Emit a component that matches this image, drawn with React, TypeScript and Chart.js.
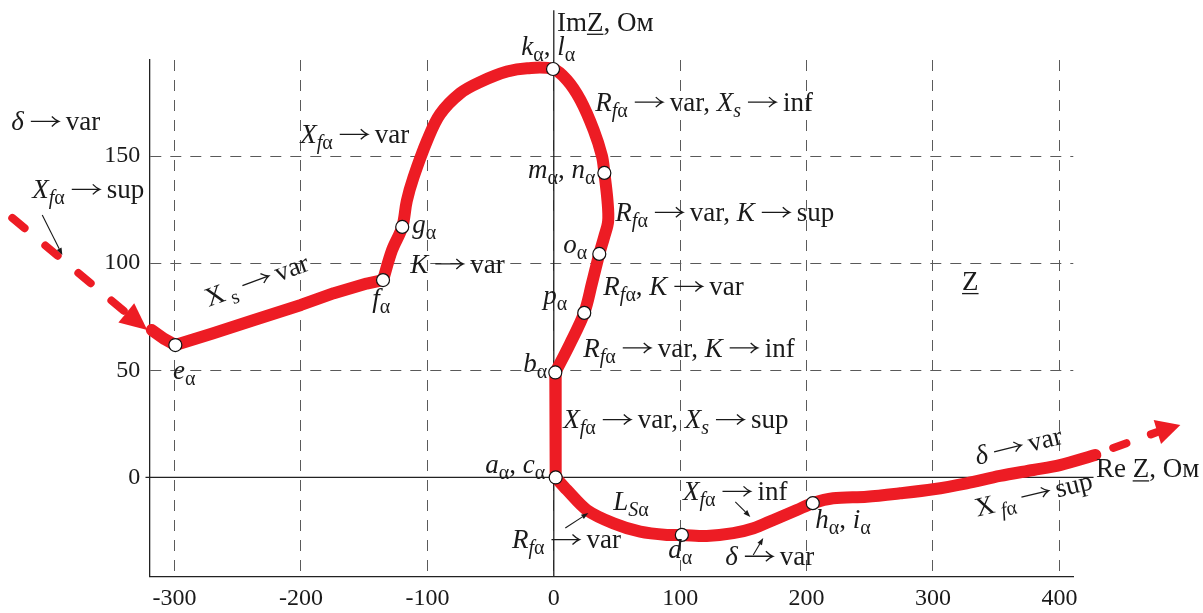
import React, { useEffect, useRef } from "react";
import { Chart, registerables } from "chart.js";

Chart.register(...registerables);

type P = { x: number; y: number };

// ---- axis ranges and ticks ----
const X_MIN = -320;
const X_MAX = 411;
const Y_MIN = -46.3;
const Y_MAX = 194.8;
const X_STEP = 100;
const Y_STEP = 50;

// Solid Re / Im axes (data units)
const RE_AXIS_SPAN = [-323, 427];
const IM_AXIS_SPAN = [Y_MIN, 218];

// ---- hodograph branches ----
// lead-in from the left and the X_s branch e -> f
const branchEF: P[] = [
  { x: -318, y: 68.8 }, { x: -308, y: 64.6 }, { x: -299.4, y: 61.8 },
  { x: -270, y: 67.2 }, { x: -237.7, y: 73.4 }, { x: -200, y: 80.5 },
  { x: -174, y: 86 }, { x: -148, y: 90.5 }, { x: -135.1, y: 92.1 },
];
// f -> g -> k -> m -> o -> p -> b
const branchFB: P[] = [
  { x: -135.1, y: 92.1 }, { x: -128, y: 106 }, { x: -119.9, y: 116.9 },
  { x: -116.3, y: 129 }, { x: -111, y: 140 }, { x: -100, y: 157.5 },
  { x: -90, y: 169.5 }, { x: -74, y: 179.3 }, { x: -58, y: 184.6 },
  { x: -37, y: 189.4 }, { x: -21, y: 191 }, { x: -0.6, y: 190.6 },
  { x: 10.4, y: 185.5 }, { x: 21, y: 176.2 }, { x: 31.5, y: 162.2 },
  { x: 38.1, y: 150 }, { x: 40, y: 142.1 }, { x: 42.5, y: 129 },
  { x: 43, y: 119.5 }, { x: 40, y: 112.5 }, { x: 36, y: 104.3 },
  { x: 30.2, y: 90.6 }, { x: 24.1, y: 76.8 }, { x: 13, y: 62.6 },
  { x: 1.2, y: 49 },
];
// b -> a (vertical)
const branchBA: P[] = [{ x: 1.2, y: 49 }, { x: 1.5, y: 0 }];
// a -> d -> h -> out to the right
const branchAH: P[] = [
  { x: 1.5, y: 0 }, { x: 10.4, y: -5.8 }, { x: 26.2, y: -15.2 },
  { x: 47.3, y: -21.4 }, { x: 68.4, y: -25.3 }, { x: 89.5, y: -26.8 },
  { x: 101.3, y: -26.8 }, { x: 121, y: -27.3 }, { x: 142, y: -26 },
  { x: 158, y: -23.7 }, { x: 173.8, y: -19.8 }, { x: 192.3, y: -15.2 },
  { x: 204.9, y: -12 }, { x: 221, y: -9.7 }, { x: 247.6, y: -9 },
  { x: 274, y: -7.4 }, { x: 300.2, y: -5.5 }, { x: 326.6, y: -2.7 },
  { x: 353, y: 0.7 }, { x: 379.3, y: 3.5 }, { x: 400.4, y: 5.8 },
  { x: 428.4, y: 10.5 },
];

// dashed entry / exit arrows: shaft points and arrow tips
const arrowInShaft: P[] = [{ x: -428.4, y: 121.1 }, { x: -338.2, y: 76.8 }];
const arrowInTip: P = { x: -321.6, y: 68.8 };
const arrowOutShaft: P[] = [{ x: 442.6, y: 13.8 }, { x: 477.5, y: 21.2 }];
const arrowOutTip: P = { x: 495.7, y: 24.5 };

// characteristic points e, f, g, k, m, o, p, b, a, d, h
const keyPoints: P[] = [
  { x: -299.4, y: 61.8 }, { x: -135.1, y: 92.1 }, { x: -119.9, y: 116.9 },
  { x: -0.6, y: 190.6 }, { x: 40, y: 142.1 }, { x: 36, y: 104.3 },
  { x: 24.1, y: 76.8 }, { x: 1.2, y: 49 }, { x: 1.5, y: 0 },
  { x: 101.3, y: -26.8 }, { x: 204.9, y: -12 },
];

// thin pointer arrows [from, to]
const pointers: [P, P][] = [
  [{ x: -404.7, y: 122.5 }, { x: -388.8, y: 103.8 }],
  [{ x: 9.1, y: -23.6 }, { x: 27.3, y: -16.6 }],
  [{ x: 143.6, y: -11.4 }, { x: 155.5, y: -18.4 }],
  [{ x: 157.8, y: -36.2 }, { x: 165.7, y: -28.2 }],
];

// ---- text annotations: runs [text, style]
// i = italic, s = subscript, u = underline, a = "tends to" arrow
type Run = [string, string?];
type Note = { x: number; y: number; rot?: number; runs: Run[] };

const TO: Run = ["\u2192", "a"];
const Xfa: Run[] = [["X", "i"], ["f", "si"], ["\u03b1", "s"]];
const Rfa: Run[] = [["R", "i"], ["f", "si"], ["\u03b1", "s"]];
const sub = (c: string): Run[] => [[c, "i"], ["\u03b1", "s"]];

const notes: Note[] = [
  { x: -429.2, y: 162.1, runs: [["\u03b4", "i"], TO, ["var"]] },
  { x: -412.6, y: 130.4, runs: [...Xfa, TO, ["sup"]] },
  { x: -200.6, y: 156.1, runs: [...Xfa, TO, ["var"]] },
  { x: -273.2, y: 79.5, rot: -20, runs: [["X"], [" s", "s"], TO, ["var"]] },
  { x: -113.5, y: 95.6, runs: [["K", "i"], TO, ["var"]] },
  { x: -111.9, y: 114.1, runs: sub("g") },
  { x: -143.6, y: 79.5, runs: sub("f") },
  { x: -301.3, y: 46, runs: sub("e") },
  { x: -25.7, y: 197.1, runs: [...sub("k"), [", "], ...sub("l")] },
  { x: 2.5, y: 208.5, runs: [["Im"], ["Z", "u"], [", \u041e\u043c"]] },
  { x: 32.8, y: 171.1, runs: [...Rfa, TO, ["var, "], ["X", "i"], ["s", "si"], TO, ["inf"]] },
  { x: -20.4, y: 139.7, runs: [...sub("m"), [", "], ...sub("n")] },
  { x: 48.7, y: 119.7, runs: [...Rfa, TO, ["var, "], ["K", "i"], TO, ["sup"]] },
  { x: 7.5, y: 104.7, runs: sub("o") },
  { x: 39.2, y: 85.1, runs: [...Rfa, [", "], ["K", "i"], TO, ["var"]] },
  { x: -8.3, y: 80.9, runs: sub("p") },
  { x: 23.3, y: 56.4, runs: [...Rfa, TO, ["var, "], ["K", "i"], TO, ["inf"]] },
  { x: -24.1, y: 49.4, runs: sub("b") },
  { x: 7.5, y: 23, runs: [...Xfa, TO, ["var, "], ["X", "i"], ["s", "si"], TO, ["sup"]] },
  { x: -54.2, y: 2, runs: [...sub("a"), [", "], ...sub("c")] },
  { x: 47.1, y: -15.2, runs: [["L", "i"], ["S", "si"], ["\u03b1", "s"]] },
  { x: -33.1, y: -33, runs: [...Rfa, TO, ["var"]] },
  { x: 90.6, y: -37.7, runs: sub("d") },
  { x: 102.2, y: -10.5, runs: [...Xfa, TO, ["inf"]] },
  { x: 135.7, y: -40.8, runs: [["\u03b4", "i"], TO, ["var"]] },
  { x: 206.9, y: -23.7, runs: [...sub("h"), [", "], ...sub("i")] },
  { x: 335, y: 5.8, rot: -14, runs: [["\u03b4", "i"], TO, ["var"]] },
  { x: 335, y: -18.3, rot: -13.5, runs: [["X"], [" f", "si"], ["\u03b1", "s"], TO, ["sup"]] },
  { x: 428.9, y: 0.1, runs: [["Re "], ["Z", "u"], [", \u041e\u043c"]] },
  { x: 323, y: 87.5, runs: [["Z", "u"]] },
];

const RED = "#ed1c24";
const INK = "#1a1a1a";
const FONT = '"Liberation Serif", "Times New Roman", serif';
const MAIN_SIZE = 27;
const SUB_SIZE = 20;
const SUB_DROP = 6;
const ARROW_GAP_L = 7;
const ARROW_LEN = 28;
const ARROW_GAP_R = 7;

function drawRich(ctx: CanvasRenderingContext2D, runs: Run[], x: number, y: number, rotDeg: number) {
  ctx.save();
  ctx.translate(x, y);
  if (rotDeg) ctx.rotate((rotDeg * Math.PI) / 180);
  ctx.textAlign = "left";
  ctx.textBaseline = "alphabetic";
  ctx.fillStyle = INK;
  ctx.strokeStyle = INK;
  let cx = 0;
  for (const [t, st = ""] of runs) {
    if (st === "a") {
      // "tends to" arrow drawn as a vector
      const ay = -0.32 * MAIN_SIZE;
      const x1 = cx + ARROW_GAP_L;
      const x2 = x1 + ARROW_LEN;
      ctx.lineWidth = 1.3;
      ctx.beginPath();
      ctx.moveTo(x1, ay);
      ctx.lineTo(x2, ay);
      ctx.moveTo(x2 - 7, ay - 5);
      ctx.quadraticCurveTo(x2 - 3, ay - 1, x2, ay);
      ctx.quadraticCurveTo(x2 - 3, ay + 1, x2 - 7, ay + 5);
      ctx.stroke();
      cx = x2 + ARROW_GAP_R;
      continue;
    }
    const isSub = st.includes("s");
    const it = st.includes("i");
    const fs = isSub ? SUB_SIZE : MAIN_SIZE;
    ctx.font = `${it ? "italic " : ""}${fs}px ${FONT}`;
    const dy = isSub ? SUB_DROP : 0;
    ctx.fillText(t, cx, dy);
    const w = ctx.measureText(t).width;
    if (st.includes("u")) ctx.fillRect(cx, dy + 3, w, 1.3);
    cx += w;
  }
  ctx.restore();
}

function head(ctx: CanvasRenderingContext2D, bx: number, by: number, tx: number, ty: number, half: number) {
  const dx = tx - bx, dy = ty - by;
  const len = Math.hypot(dx, dy) || 1;
  const nx = -dy / len, ny = dx / len;
  ctx.beginPath();
  ctx.moveTo(tx, ty);
  ctx.lineTo(bx + nx * half, by + ny * half);
  ctx.lineTo(bx - nx * half, by - ny * half);
  ctx.closePath();
  ctx.fill();
}

const overlay = {
  id: "hodographOverlay",
  beforeDatasetsDraw(chart: any) {
    const { ctx, scales } = chart;
    const xs = scales.x, ys = scales.y;
    ctx.save();
    ctx.strokeStyle = "#222";
    ctx.lineWidth = 1.3;
    ctx.beginPath();
    const y0 = ys.getPixelForValue(0);
    ctx.moveTo(xs.getPixelForValue(RE_AXIS_SPAN[0]), y0);
    ctx.lineTo(xs.getPixelForValue(RE_AXIS_SPAN[1]), y0);
    const x0 = xs.getPixelForValue(0);
    ctx.moveTo(x0, ys.getPixelForValue(IM_AXIS_SPAN[0]));
    ctx.lineTo(x0, ys.getPixelForValue(IM_AXIS_SPAN[1]));
    ctx.stroke();
    ctx.restore();
  },
  afterDatasetsDraw(chart: any) {
    const { ctx, scales } = chart;
    const xs = scales.x, ys = scales.y;
    const px = (p: P) => [xs.getPixelForValue(p.x), ys.getPixelForValue(p.y)];
    ctx.save();
    // red arrow heads
    ctx.fillStyle = RED;
    const heads: [P, P][] = [
      [arrowInShaft[arrowInShaft.length - 1], arrowInTip],
      [arrowOutShaft[arrowOutShaft.length - 1], arrowOutTip],
    ];
    for (const [b, t] of heads) {
      const [bx, by] = px(b);
      const [tx, ty] = px(t);
      head(ctx, bx, by, tx, ty, 12.5);
    }
    // thin pointers
    ctx.strokeStyle = INK;
    ctx.fillStyle = INK;
    ctx.lineWidth = 1.1;
    for (const [f, t] of pointers) {
      const [fx, fy] = px(f);
      const [tx, ty] = px(t);
      const len = Math.hypot(tx - fx, ty - fy);
      const ux = (tx - fx) / len, uy = (ty - fy) / len;
      const bx = tx - ux * 7, by = ty - uy * 7;
      ctx.beginPath();
      ctx.moveTo(fx, fy);
      ctx.lineTo(bx, by);
      ctx.stroke();
      head(ctx, bx, by, tx, ty, 2.6);
    }
    // text
    for (const n of notes) {
      const [x, y] = px(n);
      drawRich(ctx, n.runs, x, y, n.rot || 0);
    }
    ctx.restore();
  },
};

const curve = (data: P[], tension: number) => ({
  data,
  showLine: true,
  borderColor: RED,
  backgroundColor: RED,
  borderWidth: 12,
  pointRadius: 0,
  tension,
  borderCapStyle: "round" as const,
  borderJoinStyle: "round" as const,
  clip: false as const,
  order: 2,
});

const dashed = (data: P[], dash: number[]) => ({
  data,
  showLine: true,
  borderColor: RED,
  borderWidth: 8,
  pointRadius: 0,
  borderDash: dash,
  borderCapStyle: "round" as const,
  clip: false as const,
  order: 2,
});

export default function App() {
  const ref = useRef<HTMLCanvasElement>(null);
  useEffect(() => {
    if (!ref.current) return;
    const tickFont = { family: FONT, size: 24 };
    const chart = new Chart(ref.current, {
      type: "scatter",
      data: {
        datasets: [
          {
            data: keyPoints,
            pointRadius: 6.5,
            pointBackgroundColor: "#ffffff",
            pointBorderColor: "#111111",
            pointBorderWidth: 1.2,
            showLine: false,
            clip: false,
            order: 0,
          } as any,
          curve(branchEF, 0) as any,
          curve(branchFB, 0.35) as any,
          curve(branchBA, 0) as any,
          curve(branchAH, 0.3) as any,
          dashed(arrowInShaft, [16, 27]) as any,
          dashed(arrowOutShaft, [14, 26]) as any,
        ],
      },
      options: {
        responsive: false,
        animation: false,
        events: [],
        layout: { padding: { left: 0, right: 129.7, top: 60, bottom: 0 } },
        plugins: { legend: { display: false }, tooltip: { enabled: false } },
        scales: {
          x: {
            type: "linear",
            min: X_MIN,
            max: X_MAX,
            afterFit: (s: any) => { s.height = 36.3; },
            ticks: { stepSize: X_STEP, includeBounds: false, padding: 8, color: INK, font: tickFont, maxRotation: 0 },
            grid: { color: "#5a5a5a", lineWidth: 1, drawTicks: false },
            border: { display: true, color: "#222", width: 1.3, dash: [11, 9] },
          },
          y: {
            type: "linear",
            min: Y_MIN,
            max: Y_MAX,
            afterFit: (s: any) => { s.width = 149.3; },
            ticks: { stepSize: Y_STEP, includeBounds: false, padding: 9, color: INK, font: tickFont },
            grid: { color: "#5a5a5a", lineWidth: 1, drawTicks: false },
            border: { display: true, color: "#222", width: 1.3, dash: [11, 9] },
          },
        },
      } as any,
      plugins: [overlay],
    });
    return () => chart.destroy();
  }, []);
  return (
    <div style={{ position: "absolute", left: 0, top: 0, width: 1203, height: 613, background: "#fff" }}>
      <canvas ref={ref} width={1203} height={613} style={{ width: 1203, height: 613, display: "block" }} />
    </div>
  );
}
